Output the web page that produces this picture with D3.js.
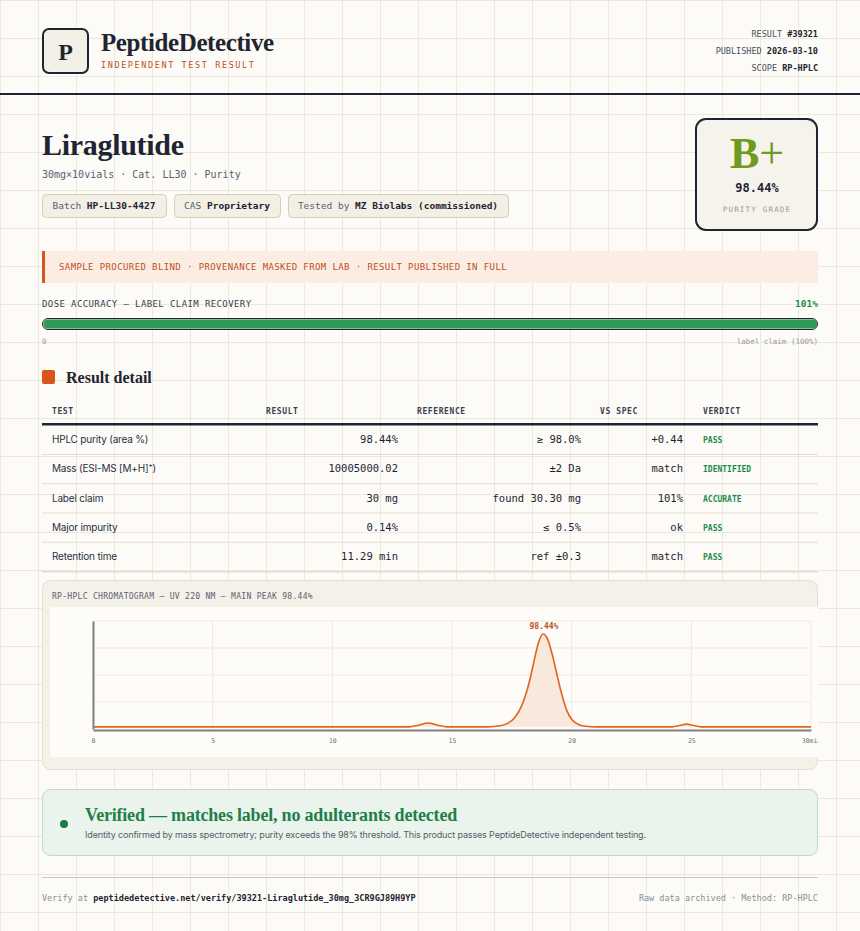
<!DOCTYPE html>
<html><head><meta charset="utf-8">
<script src="https://cdn.jsdelivr.net/npm/d3@7"></script>
<style>body{margin:0;background:#fcfbf7}svg{display:block}</style>
</head><body>
<svg id="c" width="860" height="931"></svg>
<script>
// ---- data ----
const headerMeta = [["RESULT", "#39321"], ["PUBLISHED", "2026-03-10"], ["SCOPE", "RP-HPLC"]];
const chips = [["Batch", "HP-LL30-4427"], ["CAS", "Proprietary"], ["Tested by", "MZ Biolabs (commissioned)"]];
const doseRecovery = 101;
const tableHeaders = ["TEST", "RESULT", "REFERENCE", "VS SPEC", "VERDICT"];
const testNames = ["HPLC purity (area %)", "Mass (ESI-MS [M+H]\u207A)", "Label claim", "Major impurity", "Retention time"];
const resultVals = ["98.44%", "10005000.02", "30 mg", "0.14%", "11.29 min"];
const referenceVals = ["\u2265 98.0%", "\u00B12 Da", "found 30.30 mg", "\u2264 0.5%", "ref \u00B10.3"];
const vsSpec = ["+0.44", "match", "101%", "ok", "match"];
const verdicts = ["PASS", "IDENTIFIED", "ACCURATE", "PASS", "PASS"];
const chromTime = [0,5,10,13.2,13.6,14,14.4,14.8,16.5,17,17.3,17.6,17.9,18.2,18.4,18.6,18.8,19.0,19.2,19.4,19.6,19.8,20.0,20.3,20.6,21,24.2,24.5,24.8,25.1,25.4,30];
const chromSignal = [2,2,2,2,3.5,5.5,3.5,2,2,3,5,10,21,41,60,79,88,83,68,49,31,17,9,4,2.5,2,2,3.2,4.5,3.2,2,2];
const xTicks = [0,5,10,15,20,25,30];
const yGrid = [25,50,75,100];

const svg = d3.select("#c");
const W = 860, H = 931;
const mono = "'DejaVu Sans Mono','Liberation Mono',monospace";
const serif = "'Liberation Serif','DejaVu Serif',serif";
const sans = "Inter,'Noto Sans',sans-serif";
const dark = "#1e2430", orange = "#d9541a", green = "#1f8a4c";

// background grid
svg.append("rect").attr("width", W).attr("height", H).attr("fill", "#fcfbf7");
const bg = svg.append("g").attr("stroke", "#ece8de").attr("stroke-width", 1);
d3.range(0, W, 38).forEach(x => bg.append("line").attr("x1", x + .5).attr("x2", x + .5).attr("y1", 0).attr("y2", H));
d3.range(0, H, 38).forEach(y => bg.append("line").attr("y1", y + .5).attr("y2", y + .5).attr("x1", 0).attr("x2", W));

function txt(x, y, s, o = {}) {
  const t = svg.append("text").attr("x", x).attr("y", y).text(s)
    .attr("font-family", o.f || mono).attr("font-size", o.s || 10).attr("fill", o.c || dark)
    .attr("font-weight", o.w || 400).attr("text-anchor", o.a || "start");
  if (o.ls) t.attr("letter-spacing", o.ls);
  return t;
}
function mixed(x, y, parts, o = {}) {
  const t = svg.append("text").attr("x", x).attr("y", y).attr("font-family", o.f || mono)
    .attr("font-size", o.s || 10).attr("text-anchor", o.a || "start");
  if (o.ls) t.attr("letter-spacing", o.ls);
  parts.forEach(([s, c, w]) => t.append("tspan").text(s).attr("fill", c).attr("font-weight", w || 400));
  return t;
}

// header
svg.append("rect").attr("x", 43).attr("y", 29).attr("width", 45).attr("height", 44).attr("rx", 6)
  .attr("fill", "#f3f0e8").attr("stroke", dark).attr("stroke-width", 2);
txt(65.5, 60, "P", {f: serif, s: 24, w: 700, a: "middle"});
txt(101, 51, "PeptideDetective", {f: serif, s: 25, w: 700, ls: -0.4});
txt(101, 68, "INDEPENDENT TEST RESULT", {s: 8.5, c: "#c0501a", ls: 1.6});
headerMeta.forEach(([k, v], i) => mixed(818, 37 + i * 17, [[k + " ", "#4a5060"], [v, dark, 700]], {s: 8.5, a: "end"}));
svg.append("rect").attr("x", 0).attr("y", 93).attr("width", W).attr("height", 2).attr("fill", dark);

// title
txt(42, 155, "Liraglutide", {f: serif, s: 30, w: 700, ls: -0.3});
txt(42, 178, "30mg\u00D710vials \u00B7 Cat. LL30 \u00B7 Purity", {s: 10, c: "#5a6070"});
const chipX = [42, 174, 288], chipW = [124, 106, 220];
chips.forEach(([k, v], i) => {
  svg.append("rect").attr("x", chipX[i] + .5).attr("y", 194.5).attr("width", chipW[i]).attr("height", 23).attr("rx", 4)
    .attr("fill", "#f3efe5").attr("stroke", "#d8ccb2");
  mixed(chipX[i] + chipW[i] / 2, 209, [[k + " ", "#5a6070"], [v, dark, 700]], {s: 9.5, a: "middle"});
});

// grade box
svg.append("rect").attr("x", 696).attr("y", 119).attr("width", 121).attr("height", 111).attr("rx", 10)
  .attr("fill", "#f6f3ec").attr("stroke", dark).attr("stroke-width", 2);
mixed(757, 168, [["B", "#6f9a1e", 700], ["+", "#6f9a1e", 400]], {f: serif, s: 44, a: "middle"});
txt(757, 192, "98.44%", {s: 12, w: 700, a: "middle"});
txt(757, 212, "PURITY GRADE", {s: 7.5, c: "#9a9a9a", a: "middle", ls: 1.2});

// banner
svg.append("rect").attr("x", 42).attr("y", 251).attr("width", 776).attr("height", 32).attr("fill", "#fbede3");
svg.append("rect").attr("x", 42).attr("y", 251).attr("width", 3).attr("height", 32).attr("fill", orange);
txt(59, 270, "SAMPLE PROCURED BLIND \u00B7 PROVENANCE MASKED FROM LAB \u00B7 RESULT PUBLISHED IN FULL", {s: 9, c: "#c0501a", ls: 0.4});

// dose bar
txt(42, 307, "DOSE ACCURACY \u2014 LABEL CLAIM RECOVERY", {s: 9, c: "#3a4050", ls: 0.4});
txt(818, 307, doseRecovery + "%", {s: 9.5, c: green, w: 700, a: "end"});
const dx = d3.scaleLinear().domain([0, 100]).range([42, 818]).clamp(true);
svg.append("rect").attr("x", 42.5).attr("y", 318.5).attr("width", 775).attr("height", 11).attr("rx", 5.5)
  .attr("fill", "#e8e3d6").attr("stroke", dark);
svg.append("rect").attr("x", 43.5).attr("y", 319.5).attr("width", dx(doseRecovery) - 44.5).attr("height", 9).attr("rx", 4.5)
  .attr("fill", "#2e9a55");
txt(42, 344, "0", {s: 7.5, c: "#9a9a9a"});
txt(818, 344, "label claim (100%)", {s: 7.5, c: "#9a9a9a", a: "end"});

// result detail
svg.append("rect").attr("x", 42).attr("y", 370).attr("width", 13).attr("height", 14).attr("rx", 2).attr("fill", orange);
txt(66, 383, "Result detail", {f: serif, s: 16, w: 700});

// table
const colX = [52, 266, 417, 600, 703];
tableHeaders.forEach((h, i) => txt(colX[i], 414, h, {s: 8, w: 700, c: "#3a4050", ls: 0.6}));
svg.append("rect").attr("x", 42).attr("y", 423).attr("width", 776).attr("height", 2.5).attr("fill", dark);
const rowY = d3.scalePoint().domain(d3.range(testNames.length)).range([439, 556]);
testNames.forEach((n, i) => {
  const y = rowY(i);
  txt(52, y + 4, n, {f: sans, s: 10, c: "#2a3040", ls: -0.2});
  txt(398, y + 4, resultVals[i], {s: 10.5, a: "end"});
  txt(581, y + 4, referenceVals[i], {s: 10.5, a: "end"});
  txt(683, y + 4, vsSpec[i], {s: 10.5, a: "end"});
  txt(703, y + 4, verdicts[i], {s: 8, w: 700, c: green});
  svg.append("rect").attr("x", 42).attr("y", y + 15).attr("width", 776).attr("height", i === testNames.length - 1 ? 1.5 : 1).attr("fill", "#e4ddcc");
});

// chromatogram card
svg.append("rect").attr("x", 42.5).attr("y", 580.5).attr("width", 775).attr("height", 189).attr("rx", 8)
  .attr("fill", "#f4f1e8").attr("stroke", "#e6e0d0");
txt(52, 599, "RP-HPLC CHROMATOGRAM \u2014 UV 220 NM \u2014 MAIN PEAK 98.44%", {s: 8, c: "#5a6070", ls: 0.3});
svg.append("defs").append("clipPath").attr("id", "cc").append("rect").attr("x", 42).attr("y", 580).attr("width", 776).attr("height", 190);
const cg = svg.append("g").attr("clip-path", "url(#cc)");
cg.append("rect").attr("x", 50).attr("y", 607).attr("width", 780).attr("height", 150).attr("fill", "#fdfcf9");
const x = d3.scaleLinear().domain([0, 30]).range([93, 811]);
const y = d3.scaleLinear().domain([0, 100]).range([729, 621]);
xTicks.forEach(t => cg.append("line").attr("x1", x(t)).attr("x2", x(t)).attr("y1", 621).attr("y2", 729).attr("stroke", "#eee9de"));
yGrid.forEach(t => cg.append("line").attr("x1", 93).attr("x2", 811).attr("y1", y(t)).attr("y2", y(t)).attr("stroke", "#eee9de"));
const pts = chromTime.map((t, i) => [t, chromSignal[i]]);
cg.append("path").datum(pts).attr("fill", "#f8e6d8").attr("opacity", 0.9)
  .attr("d", d3.area().x(d => x(d[0])).y0(y(chromSignal[0])).y1(d => y(d[1])).curve(d3.curveMonotoneX));
cg.append("path").datum(pts).attr("fill", "none").attr("stroke", "#e0641e").attr("stroke-width", 1.6)
  .attr("d", d3.line().x(d => x(d[0])).y(d => y(d[1])).curve(d3.curveMonotoneX));
const xa = cg.append("g").attr("transform", "translate(0,730)")
  .call(d3.axisBottom(x).tickValues(xTicks).tickSize(0).tickPadding(8).tickFormat(d => d === 30 ? "30min" : d));
xa.select(".domain").attr("stroke", "#808080").attr("stroke-width", 2);
xa.selectAll("text").attr("font-family", mono).attr("font-size", 6.5).attr("fill", "#6a7080");
const ya = cg.append("g").attr("transform", "translate(93,0)").call(d3.axisLeft(y).tickValues([]).tickSize(0));
ya.select(".domain").attr("stroke", "#808080").attr("stroke-width", 2);
const peakI = chromSignal.indexOf(d3.max(chromSignal));
txt(x(chromTime[peakI]) + 1, y(chromSignal[peakI]) - 5, "98.44%", {s: 8, w: 700, c: "#c0501a", a: "middle"});

// verified box
svg.append("rect").attr("x", 42.5).attr("y", 789.5).attr("width", 775).attr("height", 66).attr("rx", 8)
  .attr("fill", "#eaf4ec").attr("stroke", "#b9dcc3");
svg.append("circle").attr("cx", 64).attr("cy", 824).attr("r", 4).attr("fill", "#1e7a45");
txt(85, 821, "Verified \u2014 matches label, no adulterants detected", {f: serif, s: 18, w: 700, c: "#1e8048", ls: -0.2});
txt(85, 838, "Identity confirmed by mass spectrometry; purity exceeds the 98% threshold. This product passes PeptideDetective independent testing.", {f: sans, s: 9, c: "#555c68", ls: -0.15});

// footer
svg.append("rect").attr("x", 42).attr("y", 877).attr("width", 776).attr("height", 1).attr("fill", "#cfcab8");
mixed(42, 901, [["Verify at ", "#8a8f9a"], ["peptidedetective.net/verify/39321-Liraglutide_30mg_3CR9GJ89H9YP", dark, 700]], {s: 8.5});
txt(818, 901, "Raw data archived \u00B7 Method: RP-HPLC", {s: 8.5, c: "#8a8f9a", a: "end"});
</script>
</body></html>
